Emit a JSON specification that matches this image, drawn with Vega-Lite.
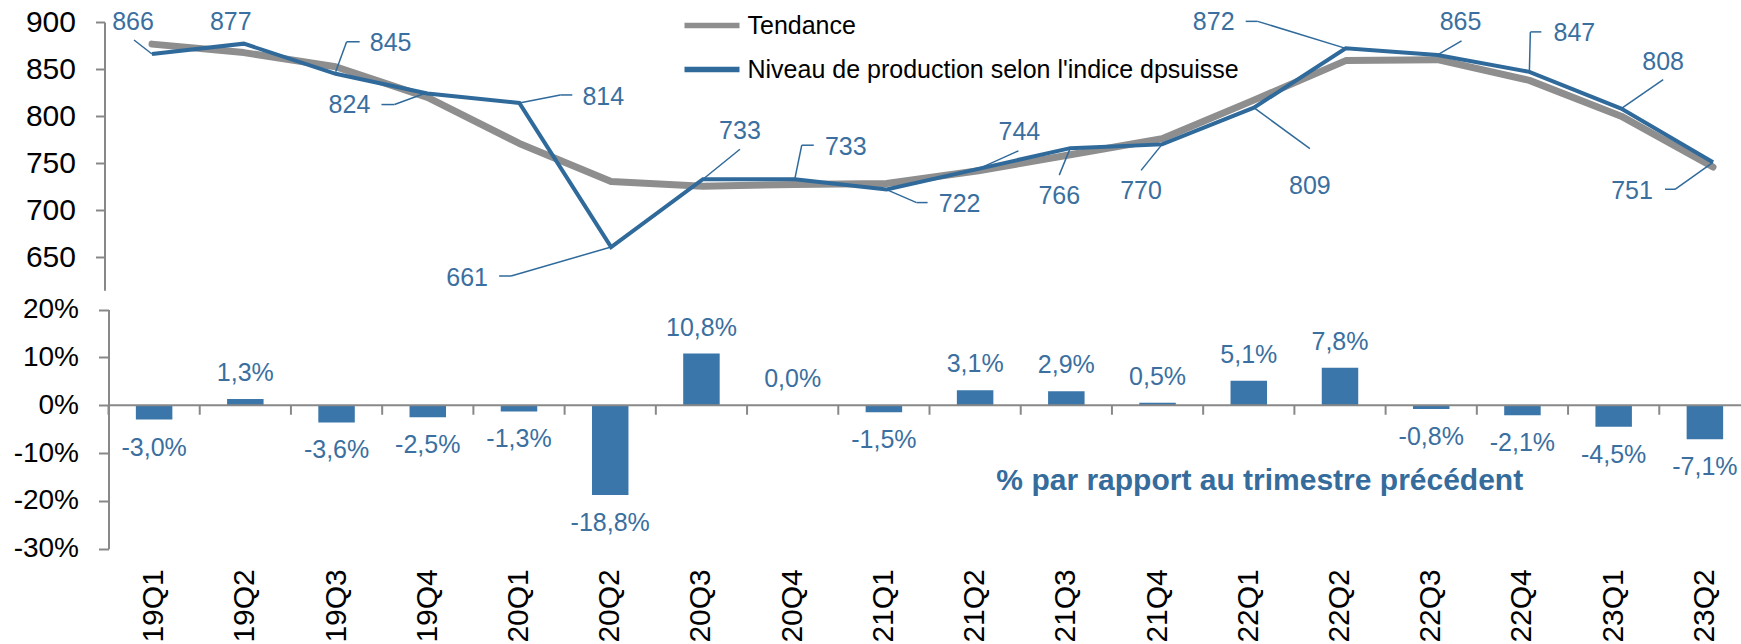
{
  "$schema": "https://vega.github.io/schema/vega-lite/v6.json",
  "autosize": {"type": "none"},
  "width": 1632.5,
  "height": 526.7,
  "padding": {"left": 108.5, "top": 22, "right": 0, "bottom": 95.3},
  "background": "white",
  "config": {
    "view": {"stroke": null},
    "axis": {"grid": false, "labelFont": "Liberation Sans", "labelColor": "#000000", "domainColor": "#888888", "tickColor": "#888888", "domainWidth": 2, "tickWidth": 2},
    "locale": {"number": {"decimal": ",", "thousands": " ", "grouping": [3], "currency": ["", " €"], "minus": "-"}},
    "text": {"font": "Liberation Sans"}
  },
  "data": {"values": [
    {"q": "19Q1", "niveau": 866, "tendance": 876.5, "pct": -0.030},
    {"q": "19Q2", "niveau": 877, "tendance": 867.5, "pct": 0.013},
    {"q": "19Q3", "niveau": 845, "tendance": 852.5, "pct": -0.036},
    {"q": "19Q4", "niveau": 824, "tendance": 820, "pct": -0.025},
    {"q": "20Q1", "niveau": 814, "tendance": 771, "pct": -0.013},
    {"q": "20Q2", "niveau": 661, "tendance": 730.5, "pct": -0.188},
    {"q": "20Q3", "niveau": 733, "tendance": 725.5, "pct": 0.108},
    {"q": "20Q4", "niveau": 733, "tendance": 727.5, "pct": 0.000},
    {"q": "21Q1", "niveau": 722, "tendance": 728.5, "pct": -0.015},
    {"q": "21Q2", "niveau": 744, "tendance": 742, "pct": 0.031},
    {"q": "21Q3", "niveau": 766, "tendance": 759, "pct": 0.029},
    {"q": "21Q4", "niveau": 770, "tendance": 776, "pct": 0.005},
    {"q": "22Q1", "niveau": 809, "tendance": 817, "pct": 0.051},
    {"q": "22Q2", "niveau": 872, "tendance": 859, "pct": 0.078},
    {"q": "22Q3", "niveau": 865, "tendance": 860, "pct": -0.008},
    {"q": "22Q4", "niveau": 847, "tendance": 838, "pct": -0.021},
    {"q": "23Q1", "niveau": 808, "tendance": 800, "pct": -0.045},
    {"q": "23Q2", "niveau": 751, "tendance": 746, "pct": -0.071}
  ]},
  "layer": [
    {
      "layer": [
        {
          "mark": {"type": "line", "strokeWidth": 7, "strokeCap": "round", "strokeJoin": "round"},
          "encoding": {
            "x": {"field": "q", "type": "nominal", "scale": {"type": "point", "range": [43.5, 1604.5], "padding": 0}, "axis": null},
            "y": {"field": "tendance", "type": "quantitative", "scale": {"domain": [615, 900], "range": [268.3, 0], "nice": false, "zero": false},
                  "axis": {"title": null, "orient": "left", "offset": 4, "values": [650, 700, 750, 800, 850, 900], "labelFontSize": 30, "tickSize": 9, "labelPadding": 20}},
            "color": {"datum": "Tendance", "type": "nominal",
                      "scale": {"domain": ["Tendance", "Niveau de production selon l'indice dpsuisse"], "range": ["#8e8e8e", "#2f6a9b"]},
                      "legend": {"orient": "none", "legendX": 573, "legendY": -27, "title": null, "symbolType": "stroke", "symbolSize": 3025, "symbolStrokeWidth": 5.5, "labelFontSize": 25, "labelFont": "Liberation Sans", "labelColor": "#000000", "labelOffset": 5, "labelLimit": 0, "rowPadding": -15, "padding": 0}}
          }
        },
        {
          "mark": {"type": "line", "strokeWidth": 4, "strokeJoin": "miter"},
          "encoding": {
            "x": {"field": "q", "type": "nominal"},
            "y": {"field": "niveau", "type": "quantitative"},
            "color": {"datum": "Niveau de production selon l'indice dpsuisse", "type": "nominal"}
          }
        },
        {"transform": [{"filter": "datum.q === '19Q1'"}], "layer": [
          {"mark": {"type": "text", "dx": -19, "dy": -24, "baseline": "alphabetic", "align": "center", "fontSize": 25, "color": "#3a6fa0"}, "encoding": {"x": {"field": "q", "type": "nominal"}, "y": {"field": "niveau", "type": "quantitative"}, "text": {"field": "niveau", "type": "quantitative"}}},
          {"mark": {"type": "rule", "xOffset": -18, "yOffset": -14, "x2Offset": 0, "y2Offset": 0, "color": "#2f6a9b", "strokeWidth": 1.5}, "encoding": {"x": {"field": "q", "type": "nominal"}, "y": {"field": "niveau", "type": "quantitative"}, "x2": {"field": "q"}, "y2": {"field": "niveau"}}}
        ]},
        {"transform": [{"filter": "datum.q === '19Q2'"}], "layer": [
          {"mark": {"type": "text", "dx": -13, "dy": -14, "baseline": "alphabetic", "align": "center", "fontSize": 25, "color": "#3a6fa0"}, "encoding": {"x": {"field": "q", "type": "nominal"}, "y": {"field": "niveau", "type": "quantitative"}, "text": {"field": "niveau", "type": "quantitative"}}}
        ]},
        {"transform": [{"filter": "datum.q === '19Q3'"}], "layer": [
          {"mark": {"type": "text", "dx": 55, "dy": -23, "baseline": "alphabetic", "align": "center", "fontSize": 25, "color": "#3a6fa0"}, "encoding": {"x": {"field": "q", "type": "nominal"}, "y": {"field": "niveau", "type": "quantitative"}, "text": {"field": "niveau", "type": "quantitative"}}},
          {"mark": {"type": "rule", "xOffset": 24, "yOffset": -32, "x2Offset": 11, "y2Offset": -32, "color": "#2f6a9b", "strokeWidth": 1.5}, "encoding": {"x": {"field": "q", "type": "nominal"}, "y": {"field": "niveau", "type": "quantitative"}, "x2": {"field": "q"}, "y2": {"field": "niveau"}}},
          {"mark": {"type": "rule", "xOffset": 11, "yOffset": -32, "x2Offset": 0, "y2Offset": -2, "color": "#2f6a9b", "strokeWidth": 1.5}, "encoding": {"x": {"field": "q", "type": "nominal"}, "y": {"field": "niveau", "type": "quantitative"}, "x2": {"field": "q"}, "y2": {"field": "niveau"}}}
        ]},
        {"transform": [{"filter": "datum.q === '19Q4'"}], "layer": [
          {"mark": {"type": "text", "dx": -78, "dy": 19, "baseline": "alphabetic", "align": "center", "fontSize": 25, "color": "#3a6fa0"}, "encoding": {"x": {"field": "q", "type": "nominal"}, "y": {"field": "niveau", "type": "quantitative"}, "text": {"field": "niveau", "type": "quantitative"}}},
          {"mark": {"type": "rule", "xOffset": -46, "yOffset": 11, "x2Offset": -33, "y2Offset": 11, "color": "#2f6a9b", "strokeWidth": 1.5}, "encoding": {"x": {"field": "q", "type": "nominal"}, "y": {"field": "niveau", "type": "quantitative"}, "x2": {"field": "q"}, "y2": {"field": "niveau"}}},
          {"mark": {"type": "rule", "xOffset": -33, "yOffset": 11, "x2Offset": -3, "y2Offset": 0, "color": "#2f6a9b", "strokeWidth": 1.5}, "encoding": {"x": {"field": "q", "type": "nominal"}, "y": {"field": "niveau", "type": "quantitative"}, "x2": {"field": "q"}, "y2": {"field": "niveau"}}}
        ]},
        {"transform": [{"filter": "datum.q === '20Q1'"}], "layer": [
          {"mark": {"type": "text", "dx": 84, "dy": 2, "baseline": "alphabetic", "align": "center", "fontSize": 25, "color": "#3a6fa0"}, "encoding": {"x": {"field": "q", "type": "nominal"}, "y": {"field": "niveau", "type": "quantitative"}, "text": {"field": "niveau", "type": "quantitative"}}},
          {"mark": {"type": "rule", "xOffset": 0, "yOffset": 0, "x2Offset": 41, "y2Offset": -8, "color": "#2f6a9b", "strokeWidth": 1.5}, "encoding": {"x": {"field": "q", "type": "nominal"}, "y": {"field": "niveau", "type": "quantitative"}, "x2": {"field": "q"}, "y2": {"field": "niveau"}}},
          {"mark": {"type": "rule", "xOffset": 41, "yOffset": -8, "x2Offset": 53, "y2Offset": -8, "color": "#2f6a9b", "strokeWidth": 1.5}, "encoding": {"x": {"field": "q", "type": "nominal"}, "y": {"field": "niveau", "type": "quantitative"}, "x2": {"field": "q"}, "y2": {"field": "niveau"}}}
        ]},
        {"transform": [{"filter": "datum.q === '20Q2'"}], "layer": [
          {"mark": {"type": "text", "dx": -144, "dy": 39, "baseline": "alphabetic", "align": "center", "fontSize": 25, "color": "#3a6fa0"}, "encoding": {"x": {"field": "q", "type": "nominal"}, "y": {"field": "niveau", "type": "quantitative"}, "text": {"field": "niveau", "type": "quantitative"}}},
          {"mark": {"type": "rule", "xOffset": -112, "yOffset": 29, "x2Offset": -100, "y2Offset": 29, "color": "#2f6a9b", "strokeWidth": 1.5}, "encoding": {"x": {"field": "q", "type": "nominal"}, "y": {"field": "niveau", "type": "quantitative"}, "x2": {"field": "q"}, "y2": {"field": "niveau"}}},
          {"mark": {"type": "rule", "xOffset": -100, "yOffset": 29, "x2Offset": 0, "y2Offset": 0, "color": "#2f6a9b", "strokeWidth": 1.5}, "encoding": {"x": {"field": "q", "type": "nominal"}, "y": {"field": "niveau", "type": "quantitative"}, "x2": {"field": "q"}, "y2": {"field": "niveau"}}}
        ]},
        {"transform": [{"filter": "datum.q === '20Q3'"}], "layer": [
          {"mark": {"type": "text", "dx": 37, "dy": -40, "baseline": "alphabetic", "align": "center", "fontSize": 25, "color": "#3a6fa0"}, "encoding": {"x": {"field": "q", "type": "nominal"}, "y": {"field": "niveau", "type": "quantitative"}, "text": {"field": "niveau", "type": "quantitative"}}},
          {"mark": {"type": "rule", "xOffset": 37, "yOffset": -30, "x2Offset": 0, "y2Offset": 0, "color": "#2f6a9b", "strokeWidth": 1.5}, "encoding": {"x": {"field": "q", "type": "nominal"}, "y": {"field": "niveau", "type": "quantitative"}, "x2": {"field": "q"}, "y2": {"field": "niveau"}}}
        ]},
        {"transform": [{"filter": "datum.q === '20Q4'"}], "layer": [
          {"mark": {"type": "text", "dx": 51, "dy": -24, "baseline": "alphabetic", "align": "center", "fontSize": 25, "color": "#3a6fa0"}, "encoding": {"x": {"field": "q", "type": "nominal"}, "y": {"field": "niveau", "type": "quantitative"}, "text": {"field": "niveau", "type": "quantitative"}}},
          {"mark": {"type": "rule", "xOffset": 19, "yOffset": -34, "x2Offset": 7, "y2Offset": -34, "color": "#2f6a9b", "strokeWidth": 1.5}, "encoding": {"x": {"field": "q", "type": "nominal"}, "y": {"field": "niveau", "type": "quantitative"}, "x2": {"field": "q"}, "y2": {"field": "niveau"}}},
          {"mark": {"type": "rule", "xOffset": 7, "yOffset": -34, "x2Offset": 0, "y2Offset": 0, "color": "#2f6a9b", "strokeWidth": 1.5}, "encoding": {"x": {"field": "q", "type": "nominal"}, "y": {"field": "niveau", "type": "quantitative"}, "x2": {"field": "q"}, "y2": {"field": "niveau"}}}
        ]},
        {"transform": [{"filter": "datum.q === '21Q1'"}], "layer": [
          {"mark": {"type": "text", "dx": 73, "dy": 22, "baseline": "alphabetic", "align": "center", "fontSize": 25, "color": "#3a6fa0"}, "encoding": {"x": {"field": "q", "type": "nominal"}, "y": {"field": "niveau", "type": "quantitative"}, "text": {"field": "niveau", "type": "quantitative"}}},
          {"mark": {"type": "rule", "xOffset": 0, "yOffset": 0, "x2Offset": 30, "y2Offset": 13, "color": "#2f6a9b", "strokeWidth": 1.5}, "encoding": {"x": {"field": "q", "type": "nominal"}, "y": {"field": "niveau", "type": "quantitative"}, "x2": {"field": "q"}, "y2": {"field": "niveau"}}},
          {"mark": {"type": "rule", "xOffset": 30, "yOffset": 13, "x2Offset": 41, "y2Offset": 13, "color": "#2f6a9b", "strokeWidth": 1.5}, "encoding": {"x": {"field": "q", "type": "nominal"}, "y": {"field": "niveau", "type": "quantitative"}, "x2": {"field": "q"}, "y2": {"field": "niveau"}}}
        ]},
        {"transform": [{"filter": "datum.q === '21Q2'"}], "layer": [
          {"mark": {"type": "text", "dx": 41, "dy": -29, "baseline": "alphabetic", "align": "center", "fontSize": 25, "color": "#3a6fa0"}, "encoding": {"x": {"field": "q", "type": "nominal"}, "y": {"field": "niveau", "type": "quantitative"}, "text": {"field": "niveau", "type": "quantitative"}}},
          {"mark": {"type": "rule", "xOffset": 40, "yOffset": -18, "x2Offset": 0, "y2Offset": 0, "color": "#2f6a9b", "strokeWidth": 1.5}, "encoding": {"x": {"field": "q", "type": "nominal"}, "y": {"field": "niveau", "type": "quantitative"}, "x2": {"field": "q"}, "y2": {"field": "niveau"}}}
        ]},
        {"transform": [{"filter": "datum.q === '21Q3'"}], "layer": [
          {"mark": {"type": "text", "dx": -11, "dy": 56, "baseline": "alphabetic", "align": "center", "fontSize": 25, "color": "#3a6fa0"}, "encoding": {"x": {"field": "q", "type": "nominal"}, "y": {"field": "niveau", "type": "quantitative"}, "text": {"field": "niveau", "type": "quantitative"}}},
          {"mark": {"type": "rule", "xOffset": -11, "yOffset": 27, "x2Offset": 0, "y2Offset": 0, "color": "#2f6a9b", "strokeWidth": 1.5}, "encoding": {"x": {"field": "q", "type": "nominal"}, "y": {"field": "niveau", "type": "quantitative"}, "x2": {"field": "q"}, "y2": {"field": "niveau"}}}
        ]},
        {"transform": [{"filter": "datum.q === '21Q4'"}], "layer": [
          {"mark": {"type": "text", "dx": -21, "dy": 55, "baseline": "alphabetic", "align": "center", "fontSize": 25, "color": "#3a6fa0"}, "encoding": {"x": {"field": "q", "type": "nominal"}, "y": {"field": "niveau", "type": "quantitative"}, "text": {"field": "niveau", "type": "quantitative"}}},
          {"mark": {"type": "rule", "xOffset": -21, "yOffset": 26, "x2Offset": 0, "y2Offset": 0, "color": "#2f6a9b", "strokeWidth": 1.5}, "encoding": {"x": {"field": "q", "type": "nominal"}, "y": {"field": "niveau", "type": "quantitative"}, "x2": {"field": "q"}, "y2": {"field": "niveau"}}}
        ]},
        {"transform": [{"filter": "datum.q === '22Q1'"}], "layer": [
          {"mark": {"type": "text", "dx": 56, "dy": 86, "baseline": "alphabetic", "align": "center", "fontSize": 25, "color": "#3a6fa0"}, "encoding": {"x": {"field": "q", "type": "nominal"}, "y": {"field": "niveau", "type": "quantitative"}, "text": {"field": "niveau", "type": "quantitative"}}},
          {"mark": {"type": "rule", "xOffset": 0, "yOffset": 0, "x2Offset": 56, "y2Offset": 41, "color": "#2f6a9b", "strokeWidth": 1.5}, "encoding": {"x": {"field": "q", "type": "nominal"}, "y": {"field": "niveau", "type": "quantitative"}, "x2": {"field": "q"}, "y2": {"field": "niveau"}}}
        ]},
        {"transform": [{"filter": "datum.q === '22Q2'"}], "layer": [
          {"mark": {"type": "text", "dx": -132, "dy": -18, "baseline": "alphabetic", "align": "center", "fontSize": 25, "color": "#3a6fa0"}, "encoding": {"x": {"field": "q", "type": "nominal"}, "y": {"field": "niveau", "type": "quantitative"}, "text": {"field": "niveau", "type": "quantitative"}}},
          {"mark": {"type": "rule", "xOffset": -100, "yOffset": -27, "x2Offset": -88, "y2Offset": -27, "color": "#2f6a9b", "strokeWidth": 1.5}, "encoding": {"x": {"field": "q", "type": "nominal"}, "y": {"field": "niveau", "type": "quantitative"}, "x2": {"field": "q"}, "y2": {"field": "niveau"}}},
          {"mark": {"type": "rule", "xOffset": -88, "yOffset": -27, "x2Offset": 0, "y2Offset": 0, "color": "#2f6a9b", "strokeWidth": 1.5}, "encoding": {"x": {"field": "q", "type": "nominal"}, "y": {"field": "niveau", "type": "quantitative"}, "x2": {"field": "q"}, "y2": {"field": "niveau"}}}
        ]},
        {"transform": [{"filter": "datum.q === '22Q3'"}], "layer": [
          {"mark": {"type": "text", "dx": 23, "dy": -25, "baseline": "alphabetic", "align": "center", "fontSize": 25, "color": "#3a6fa0"}, "encoding": {"x": {"field": "q", "type": "nominal"}, "y": {"field": "niveau", "type": "quantitative"}, "text": {"field": "niveau", "type": "quantitative"}}},
          {"mark": {"type": "rule", "xOffset": 24, "yOffset": -14, "x2Offset": 0, "y2Offset": 0, "color": "#2f6a9b", "strokeWidth": 1.5}, "encoding": {"x": {"field": "q", "type": "nominal"}, "y": {"field": "niveau", "type": "quantitative"}, "x2": {"field": "q"}, "y2": {"field": "niveau"}}}
        ]},
        {"transform": [{"filter": "datum.q === '22Q4'"}], "layer": [
          {"mark": {"type": "text", "dx": 45, "dy": -31, "baseline": "alphabetic", "align": "center", "fontSize": 25, "color": "#3a6fa0"}, "encoding": {"x": {"field": "q", "type": "nominal"}, "y": {"field": "niveau", "type": "quantitative"}, "text": {"field": "niveau", "type": "quantitative"}}},
          {"mark": {"type": "rule", "xOffset": 12, "yOffset": -40, "x2Offset": 1, "y2Offset": -40, "color": "#2f6a9b", "strokeWidth": 1.5}, "encoding": {"x": {"field": "q", "type": "nominal"}, "y": {"field": "niveau", "type": "quantitative"}, "x2": {"field": "q"}, "y2": {"field": "niveau"}}},
          {"mark": {"type": "rule", "xOffset": 1, "yOffset": -40, "x2Offset": 0, "y2Offset": 0, "color": "#2f6a9b", "strokeWidth": 1.5}, "encoding": {"x": {"field": "q", "type": "nominal"}, "y": {"field": "niveau", "type": "quantitative"}, "x2": {"field": "q"}, "y2": {"field": "niveau"}}}
        ]},
        {"transform": [{"filter": "datum.q === '23Q1'"}], "layer": [
          {"mark": {"type": "text", "dx": 42, "dy": -39, "baseline": "alphabetic", "align": "center", "fontSize": 25, "color": "#3a6fa0"}, "encoding": {"x": {"field": "q", "type": "nominal"}, "y": {"field": "niveau", "type": "quantitative"}, "text": {"field": "niveau", "type": "quantitative"}}},
          {"mark": {"type": "rule", "xOffset": 42, "yOffset": -29, "x2Offset": 0, "y2Offset": 0, "color": "#2f6a9b", "strokeWidth": 1.5}, "encoding": {"x": {"field": "q", "type": "nominal"}, "y": {"field": "niveau", "type": "quantitative"}, "x2": {"field": "q"}, "y2": {"field": "niveau"}}}
        ]},
        {"transform": [{"filter": "datum.q === '23Q2'"}], "layer": [
          {"mark": {"type": "text", "dx": -81, "dy": 37, "baseline": "alphabetic", "align": "center", "fontSize": 25, "color": "#3a6fa0"}, "encoding": {"x": {"field": "q", "type": "nominal"}, "y": {"field": "niveau", "type": "quantitative"}, "text": {"field": "niveau", "type": "quantitative"}}},
          {"mark": {"type": "rule", "xOffset": -48, "yOffset": 27, "x2Offset": -38, "y2Offset": 27, "color": "#2f6a9b", "strokeWidth": 1.5}, "encoding": {"x": {"field": "q", "type": "nominal"}, "y": {"field": "niveau", "type": "quantitative"}, "x2": {"field": "q"}, "y2": {"field": "niveau"}}},
          {"mark": {"type": "rule", "xOffset": -38, "yOffset": 27, "x2Offset": 0, "y2Offset": 0, "color": "#2f6a9b", "strokeWidth": 1.5}, "encoding": {"x": {"field": "q", "type": "nominal"}, "y": {"field": "niveau", "type": "quantitative"}, "x2": {"field": "q"}, "y2": {"field": "niveau"}}}
        ]}
      ]
    },
    {
      "layer": [
        {
          "mark": {"type": "bar", "color": "#3a76a9", "width": {"band": 0.4}},
          "encoding": {
            "x": {"field": "q", "type": "nominal", "scale": {"type": "band", "range": [0, 1642], "paddingInner": 0, "paddingOuter": 0},
                  "axis": {"title": null, "orient": "bottom", "labelAngle": -90, "labelFontSize": 30, "labelPadding": 20, "domain": false, "ticks": false}},
            "y": {"field": "pct", "type": "quantitative", "scale": {"domain": [-0.3, 0.2], "range": [526.7, 287.5], "nice": false, "zero": false},
                  "axis": {"title": null, "orient": "left", "values": [-0.3, -0.2, -0.1, 0, 0.1, 0.2], "format": ".0%", "labelFontSize": 28, "tickSize": 10, "labelPadding": 20}}
          }
        },
        {
          "data": {"values": [{}]},
          "mark": {"type": "rule", "color": "#888888", "strokeWidth": 2},
          "encoding": {"y": {"datum": 0, "type": "quantitative"}}
        },
        {
          "mark": {"type": "rule", "color": "#888888", "strokeWidth": 2},
          "encoding": {"x": {"field": "q", "type": "nominal", "bandPosition": 0}, "y": {"datum": 0, "type": "quantitative"}, "y2": {"datum": -0.02}}
        },
        {
          "transform": [{"filter": "datum.pct >= 0"}],
          "mark": {"type": "text", "dy": -18, "baseline": "alphabetic", "align": "center", "fontSize": 25, "color": "#3a6fa0"},
          "encoding": {"x": {"field": "q", "type": "nominal"}, "y": {"field": "pct", "type": "quantitative"}, "text": {"field": "pct", "type": "quantitative", "format": ".1%"}}
        },
        {
          "transform": [{"filter": "datum.pct < 0"}],
          "mark": {"type": "text", "dy": 36, "baseline": "alphabetic", "align": "center", "fontSize": 25, "color": "#3a6fa0"},
          "encoding": {"x": {"field": "q", "type": "nominal"}, "y": {"field": "pct", "type": "quantitative"}, "text": {"field": "pct", "type": "quantitative", "format": ".1%"}}
        },
        {
          "data": {"values": [{}]},
          "mark": {"type": "text", "text": "% par rapport au trimestre précédent", "fontWeight": "bold", "fontSize": 30, "color": "#356c9c", "dx": 11, "baseline": "alphabetic", "align": "center"},
          "encoding": {"x": {"datum": "22Q1", "type": "nominal"}, "y": {"datum": -0.1773, "type": "quantitative"}}
        }
      ]
    }
  ],
  "resolve": {"scale": {"x": "independent", "y": "independent"}, "axis": {"x": "independent", "y": "independent"}}
}
